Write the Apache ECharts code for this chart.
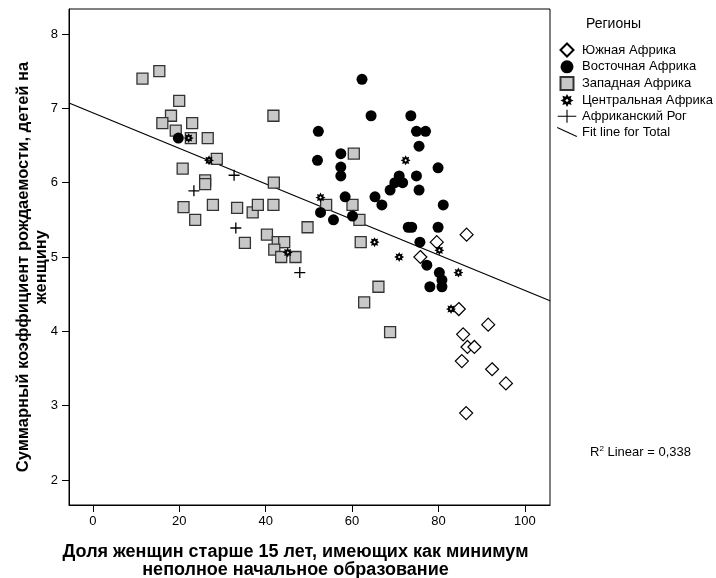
<!DOCTYPE html>
<html><head><meta charset="utf-8">
<script src="https://cdn.jsdelivr.net/npm/echarts@6/dist/echarts.min.js"></script>
<style>html,body{margin:0;padding:0;background:#fff}#c{width:716px;height:578px}</style>
</head><body><div id="c"></div>
<script>
const xTicks = [0, 20, 40, 60, 80, 100];
const yTicks = [2, 3, 4, 5, 6, 7, 8];
const regionNames = ['Южная Африка', 'Восточная Африка', 'Западная Африка', 'Центральная Африка', 'Африканский Рог', 'Fit line for Total'];

const southAfrica = [[86.5,5.3],[79.6,5.2],[75.8,5.0],[84.7,4.3],[91.5,4.09],[85.7,3.96],[86.7,3.79],[88.3,3.79],[85.4,3.6],[92.4,3.49],[95.6,3.3],[86.4,2.9]];
const eastAfrica = [[19.8,6.6],[52.0,6.3],[62.3,7.39],[64.4,6.9],[73.6,6.9],[52.2,6.69],[74.9,6.69],[77.0,6.69],[75.5,6.49],[57.4,6.39],[79.9,6.2],[57.4,6.21],[57.4,6.09],[70.9,6.09],[74.9,6.09],[69.9,6.0],[71.7,6.0],[68.8,5.9],[75.5,5.9],[58.4,5.81],[65.3,5.81],[66.9,5.7],[81.1,5.7],[52.7,5.6],[55.7,5.5],[60.1,5.55],[73.0,5.4],[73.8,5.4],[79.9,5.4],[75.7,5.2],[77.3,4.89],[80.2,4.79],[80.8,4.69],[78.0,4.6],[80.8,4.6]];
const westAfrica = [[11.5,7.4],[15.4,7.5],[20.0,7.1],[18.1,6.9],[16.1,6.8],[23.0,6.8],[19.2,6.7],[22.7,6.6],[26.6,6.6],[28.7,6.32],[20.8,6.19],[26.0,6.03],[26.0,5.98],[21.0,5.67],[27.8,5.7],[33.4,5.66],[37.0,5.6],[23.7,5.5],[35.2,5.19],[41.8,6.9],[41.9,6.0],[38.2,5.7],[41.8,5.7],[49.7,5.4],[40.3,5.3],[42.8,5.2],[44.3,5.2],[42.0,5.1],[43.6,5.0],[46.9,5.0],[54.0,5.7],[60.4,6.39],[60.1,5.7],[61.7,5.5],[62.0,5.2],[66.1,4.6],[62.8,4.39],[68.8,3.99]];
const centralAfrica = [[22.2,6.6],[26.9,6.3],[52.7,5.8],[45.1,5.06],[72.4,6.3],[65.2,5.2],[70.9,5.0],[80.2,5.09],[84.6,4.79],[82.9,4.3]];
const hornAfrica = [[32.7,6.1],[23.4,5.89],[33.1,5.39],[47.9,4.79]];

const fitIntercept = 6.94;
const fitSlope = -0.0239;
const xRange = [-5.5, 105.8];
const yRange = [1.664, 8.336];

const starPath = 'path://M20,10 L15.54,12.3 L17.07,17.07 L12.3,15.54 L10,20 L7.7,15.54 L2.93,17.07 L4.46,12.3 L0,10 L4.46,7.7 L2.93,2.93 L7.7,4.46 L10,0 L12.3,4.46 L17.07,2.93 L15.54,7.7 Z M12.6,10 L10,7.4 L7.4,10 L10,12.6 Z';
const plusPath = 'path://M0,4.4 L10,4.4 L10,5.6 L0,5.6 Z M4.4,0 L5.6,0 L5.6,10 L4.4,10 Z';
const diamondLegend = 'path://M7,0 L14,7 L7,14 L0,7 Z';
const circleLegend = 'path://M6,0 A6,6 0 1,1 5.99,0 Z';
const rectLegend = 'path://M0,0 L12,0 L12,12 L0,12 Z';
const starLegend = starPath;
const plusLegend = 'path://M0,6.4 L20,6.4 L20,7.6 L0,7.6 Z M9.4,0 L10.6,0 L10.6,14 L9.4,14 Z';
const lineLegend = 'path://M0,1 L0.4,0 L20,9 L19.6,10 Z';

const FONT = '"Liberation Sans", Arial, sans-serif';
const chart = echarts.init(document.getElementById('c'), null, {renderer: 'canvas'});

const fitData = [[xRange[0], fitIntercept + fitSlope * xRange[0]], [xRange[1], fitIntercept + fitSlope * xRange[1]]];

chart.setOption({
  animation: false,
  backgroundColor: '#fff',
  textStyle: {fontFamily: FONT},
  grid: {left: 69, top: 9, width: 481, height: 496, show: true, borderColor: '#000', borderWidth: 1, backgroundColor: 'transparent', containLabel: false, outerBoundsMode: 'none'},
  xAxis: {
    type: 'value', min: xRange[0], max: xRange[1],
    name: 'Доля женщин старше 15 лет, имеющих как минимум\nнеполное начальное образование',
    nameLocation: 'middle', nameGap: 38,
    nameTextStyle: {fontFamily: FONT, fontWeight: 'bold', fontSize: 18, color: '#000', lineHeight: 18, padding: [0, 28, 0, 0]},
    axisLine: {show: true, onZero: false, lineStyle: {color: '#000', width: 1}},
    axisTick: {show: true, length: 7, lineStyle: {color: '#000'}, customValues: xTicks},
    axisLabel: {customValues: xTicks, color: '#000', fontSize: 13, fontFamily: FONT, margin: 10},
    splitLine: {show: false}
  },
  yAxis: {
    type: 'value', min: yRange[0], max: yRange[1],
    name: 'Суммарный коэффициент рождаемости, детей на\nженщину',
    nameLocation: 'middle', nameGap: 19, nameRotate: 90, nameMoveOverlap: false,
    nameTextStyle: {fontFamily: FONT, fontWeight: 'bold', fontSize: 16.5, color: '#000', lineHeight: 18, padding: [0, 20, 0, 0]},
    axisLine: {show: true, onZero: false, lineStyle: {color: '#000', width: 1}},
    axisTick: {show: true, length: 7, lineStyle: {color: '#000'}, customValues: yTicks},
    axisLabel: {customValues: yTicks, color: '#000', fontSize: 13, fontFamily: FONT, margin: 11},
    splitLine: {show: false}
  },
  legend: {
    orient: 'vertical', left: 552, top: 37.5, itemWidth: 20, itemHeight: 13, itemGap: 2.8,
    symbolKeepAspect: true,
    textStyle: {fontFamily: FONT, fontSize: 13, color: '#000'},
    data: [
      {name: regionNames[0], icon: diamondLegend},
      {name: regionNames[1], icon: circleLegend},
      {name: regionNames[2], icon: rectLegend},
      {name: regionNames[3], icon: starLegend},
      {name: regionNames[4], icon: plusLegend},
      {name: regionNames[5], icon: lineLegend, itemStyle: {color: '#000'}}
    ]
  },
  graphic: [
    {type: 'text', left: 586, top: 17, style: {text: 'Регионы', font: '14px ' + FONT, fill: '#000'}},
    {type: 'text', left: 590, top: 445, style: {
      text: '{r|R}{s|2}{r| Linear = 0,338}',
      rich: {r: {fontSize: 13, fontFamily: FONT, color: '#000'}, s: {fontSize: 8, fontFamily: FONT, color: '#000', verticalAlign: 'top', padding: [0,0,6,0]}}
    }}
  ],
  series: [
    {name: regionNames[5], type: 'line', data: fitData, symbol: 'none', lineStyle: {color: '#000', width: 1.2}, z: 1, silent: true},
    {name: regionNames[2], type: 'scatter', data: westAfrica, symbol: 'rect', symbolSize: 11,
      itemStyle: {color: '#c8c8c8', borderColor: '#333', borderWidth: 1.3, opacity: 1}, z: 3},
    {name: regionNames[1], type: 'scatter', data: eastAfrica, symbol: 'circle', symbolSize: 11,
      itemStyle: {color: '#000', opacity: 1}, z: 3},
    {name: regionNames[0], type: 'scatter', data: southAfrica, symbol: 'diamond', symbolSize: 13,
      itemStyle: {color: '#fff', borderColor: '#000', borderWidth: 1.2, opacity: 1}, z: 3},
    {name: regionNames[3], type: 'scatter', data: centralAfrica, symbol: starPath, symbolSize: 10,
      itemStyle: {color: '#000', opacity: 1}, z: 4},
    {name: regionNames[4], type: 'scatter', data: hornAfrica, symbol: plusPath, symbolSize: 11,
      itemStyle: {color: '#000', opacity: 1}, z: 4}
  ]
});
</script>
</body></html>
